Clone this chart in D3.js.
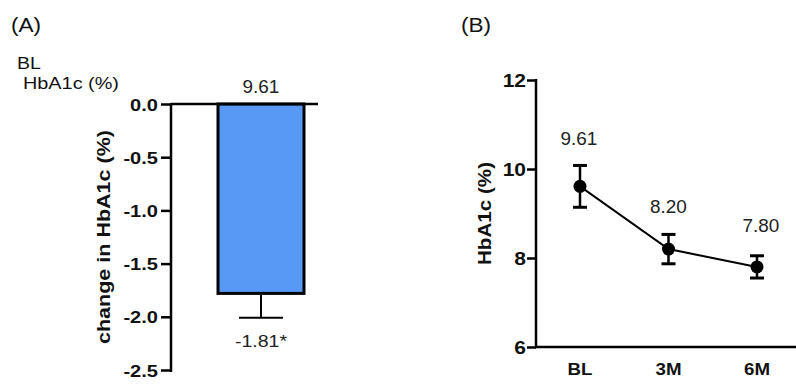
<!DOCTYPE html>
<html><head><meta charset="utf-8">
<script src="https://cdn.jsdelivr.net/npm/d3@7"></script>
<style>body{margin:0;background:#fff}svg{display:block}text{font-family:Arial,"Liberation Sans",sans-serif}</style>
</head><body><svg id="c" width="796" height="385"></svg>
<script>
// Panel A data
const changeCategories = ["change"];
const changeMean = [-1.78];
const changeErr = [0.23];
const changeLabel = ["-1.81*"];
const baselineLabel = ["9.61"];
const aTicks = [0.0, -0.5, -1.0, -1.5, -2.0, -2.5];
// Panel B data
const timeCategories = ["BL", "3M", "6M"];
const hbMean = [9.61, 8.20, 7.80];
const hbErr = [0.47, 0.33, 0.25];
const hbLabels = ["9.61", "8.20", "7.80"];
const bTicks = [6, 8, 10, 12];

const svg = d3.select("#c");
// widen glyphs along the text direction to match the reference's wide lettering
function stretch(sel, k) {
  sel.each(function () {
    const w = this.getComputedTextLength();
    d3.select(this).attr("textLength", w * k).attr("lengthAdjust", "spacingAndGlyphs");
  });
  return sel;
}

// ---------- Panel A ----------
const yA = d3.scaleLinear().domain([0, -2.5]).range([104, 370]);
const xA = d3.scaleBand().domain(changeCategories).range([218, 304]).padding(0);
const gA = svg.append("g");

stretch(svg.append("text").attr("x", 11).attr("y", 32).attr("font-size", 20.5).attr("fill", "#111").text("(A)"), 1.1);
stretch(svg.append("text").attr("x", 17).attr("y", 69).attr("font-size", 16).attr("fill", "#111").text("BL"), 1.22);
stretch(svg.append("text").attr("x", 23).attr("y", 89).attr("font-size", 16).attr("fill", "#111").text("HbA1c (%)"), 1.24);

gA.selectAll("rect.bar").data(changeMean).join("rect")
  .attr("x", (d, i) => xA(changeCategories[i]))
  .attr("width", xA.bandwidth())
  .attr("y", yA(0))
  .attr("height", d => yA(d) - yA(0))
  .attr("fill", "#5799f4").attr("stroke", "#000").attr("stroke-width", 3);
changeMean.forEach((m, i) => {
  const cx = xA(changeCategories[i]) + xA.bandwidth() / 2;
  const lo = yA(m - changeErr[i]);
  gA.append("line").attr("x1", cx).attr("x2", cx).attr("y1", yA(m) + 1.5).attr("y2", lo)
    .attr("stroke", "#000").attr("stroke-width", 2);
  gA.append("line").attr("x1", cx - 22).attr("x2", cx + 22).attr("y1", lo).attr("y2", lo)
    .attr("stroke", "#000").attr("stroke-width", 2);
  stretch(gA.append("text").attr("x", cx).attr("y", lo + 29).attr("text-anchor", "middle")
    .attr("font-size", 17).attr("fill", "#222").text(changeLabel[i]), 1.15);
  stretch(gA.append("text").attr("x", cx).attr("y", 93).attr("text-anchor", "middle")
    .attr("font-size", 17.5).attr("fill", "#222").text(baselineLabel[i]), 1.08);
});

const axA = gA.append("g").attr("transform", "translate(171,0)")
  .call(d3.axisLeft(yA).tickValues(aTicks).tickSize(10).tickSizeOuter(0)
    .tickFormat(d => d3.format(".1f")(d).replace("−", "-")));
axA.select(".domain").attr("stroke-width", 2.5).attr("d", `M0,${yA(0)-1}V${yA(-2.5)+2}`);
axA.selectAll(".tick line").attr("stroke-width", 2.5);
stretch(axA.selectAll(".tick text").attr("font-size", 17).attr("font-weight", "bold").attr("x", -13).attr("dy", "0.36em")
  .attr("fill", "#111").attr("font-family", "Arial,'Liberation Sans',sans-serif"), 1.18);
gA.append("line").attr("x1", 171).attr("x2", 318).attr("y1", yA(0)).attr("y2", yA(0)).attr("stroke", "#000").attr("stroke-width", 2.5);
svg.append("text").attr("transform", `translate(110,${(yA(0)+yA(-2.5))/2}) rotate(-90)`).attr("text-anchor", "middle")
  .attr("font-size", 17.5).attr("font-weight", "bold").attr("fill", "#111")
  .attr("textLength", 214).attr("lengthAdjust", "spacingAndGlyphs").text("change in HbA1c (%)");

// ---------- Panel B ----------
const yB = d3.scaleLinear().domain([6, 12]).range([347, 80]);
const xB = d3.scalePoint().domain(timeCategories).range([580, 757]);
const gB = svg.append("g");
stretch(svg.append("text").attr("x", 461).attr("y", 32).attr("font-size", 20.5).attr("fill", "#111").text("(B)"), 1.1);

const axB = gB.append("g").attr("transform", "translate(536,0)")
  .call(d3.axisLeft(yB).tickValues(bTicks).tickSize(9).tickSizeOuter(0).tickFormat(d3.format("d")));
axB.select(".domain").attr("stroke-width", 2.5).attr("d", `M0,${yB(12)-1}V${yB(6)+1}`);
axB.selectAll(".tick line").attr("stroke-width", 2.5);
stretch(axB.selectAll(".tick text").attr("font-size", 17.5).attr("font-weight", "bold").attr("x", -10).attr("dy", "0.36em")
  .attr("fill", "#111").attr("font-family", "Arial,'Liberation Sans',sans-serif"), 1.2);
gB.append("line").attr("x1", 535).attr("x2", 796).attr("y1", yB(6)).attr("y2", yB(6)).attr("stroke", "#000").attr("stroke-width", 2.5);
stretch(gB.selectAll("text.xl").data(timeCategories).join("text")
  .attr("x", d => xB(d)).attr("y", 375).attr("text-anchor", "middle").attr("fill", "#111")
  .attr("font-size", 17).attr("font-weight", "bold").text(d => d), 1.1);
svg.append("text").attr("transform", `translate(491,${(yB(6)+yB(12))/2}) rotate(-90)`).attr("text-anchor", "middle")
  .attr("font-size", 17.5).attr("font-weight", "bold").attr("fill", "#111")
  .attr("textLength", 103).attr("lengthAdjust", "spacingAndGlyphs").text("HbA1c (%)");

const line = d3.line().x((d, i) => xB(timeCategories[i])).y(d => yB(d));
gB.append("path").datum(hbMean).attr("d", line).attr("fill", "none").attr("stroke", "#000").attr("stroke-width", 2);
hbMean.forEach((m, i) => {
  const cx = xB(timeCategories[i]);
  const g = gB.append("g");
  g.append("line").attr("x1", cx).attr("x2", cx).attr("y1", yB(m + hbErr[i])).attr("y2", yB(m - hbErr[i])).attr("stroke", "#000").attr("stroke-width", 2.5);
  [m + hbErr[i], m - hbErr[i]].forEach(v => g.append("line").attr("x1", cx - 7).attr("x2", cx + 7).attr("y1", yB(v)).attr("y2", yB(v)).attr("stroke", "#000").attr("stroke-width", 3));
  g.append("circle").attr("cx", cx).attr("cy", yB(m)).attr("r", 6.5).attr("fill", "#000");
});
stretch(gB.selectAll("text.vl").data(hbMean).join("text")
  .attr("x", (d, i) => xB(timeCategories[i]) + [-1, 0, 4][i])
  .attr("y", (d, i) => yB(d + hbErr[i]) - [20, 21, 24][i])
  .attr("text-anchor", "middle").attr("font-size", 17.5).attr("fill", "#222").text((d, i) => hbLabels[i]), 1.08);
</script></body></html>
